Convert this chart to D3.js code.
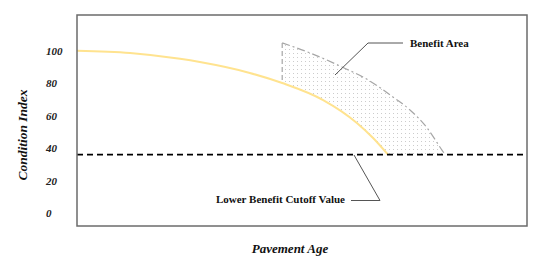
<!DOCTYPE html>
<html>
<head>
<meta charset="utf-8">
<script src="https://cdn.jsdelivr.net/npm/d3@7"></script>
<style>
  body { margin: 0; background: #fff; }
  svg { display: block; font-family: "Liberation Serif", "Times New Roman", serif; }
</style>
</head>
<body>
<svg id="chart" width="550" height="267"></svg>
<script>
// condition curve (yellow)
var pavementAge    = [0, 11.8, 22.9, 27.3, 38.4, 45.6, 54.7, 62.2, 65.8, 69.1];
var conditionIndex = [100, 98.6, 95, 93, 86.3, 80.1, 69.6, 55.5, 46.2, 36];

// upper edge of the benefit area (dash-dot)
var benefitAge   = [45.6, 51.8, 58.4, 65.1, 70.2, 74, 77.8, 81.1, 81.8];
var benefitIndex = [104.8, 98.6, 90.6, 81.3, 71.5, 63.5, 52.4, 38.8, 36];
var benefitStartLow = 80.1;   // where the vertical edge meets the yellow curve

var cutoffValue = 36;
var yTicks = [0, 20, 40, 60, 80, 100];

var svg = d3.select("#chart");
var plotLeft = 77, plotRight = 527, plotTop = 15, plotBottom = 226;

var x = d3.scaleLinear().domain([0, 100]).range([plotLeft, plotRight]);
var y = d3.scaleLinear().domain([-8, 122]).range([plotBottom, plotTop]);

var condPts = pavementAge.map(function(a, i){ return [a, conditionIndex[i]]; });
var benPts  = benefitAge.map(function(a, i){ return [a, benefitIndex[i]]; });

// dotted fill pattern
var defs = svg.append("defs");
var pat = defs.append("pattern").attr("id", "dots")
  .attr("width", 4).attr("height", 4).attr("patternUnits", "userSpaceOnUse");
pat.append("rect").attr("x", 1).attr("y", 1).attr("width", 1).attr("height", 1).attr("fill", "#cccccc");

var lineGen = d3.line().x(function(d){ return x(d[0]); }).y(function(d){ return y(d[1]); })
  .curve(d3.curveMonotoneX);
var areaGen = d3.area().x(function(d){ return x(d[0]); })
  .y0(y(cutoffValue)).y1(function(d){ return y(d[1]); })
  .curve(d3.curveMonotoneX);

var mask = defs.append("mask").attr("id", "benefitMask");
mask.append("path").attr("d", areaGen(benPts)).attr("fill", "white");
mask.append("path").attr("d", areaGen(condPts)).attr("fill", "black");

svg.append("rect")
  .attr("x", x(benefitAge[0])).attr("y", y(benefitIndex[0]))
  .attr("width", x(benefitAge[benefitAge.length - 1]) - x(benefitAge[0]))
  .attr("height", y(cutoffValue) - y(benefitIndex[0]))
  .attr("fill", "url(#dots)").attr("mask", "url(#benefitMask)");

// benefit area outline
svg.append("line")
  .attr("x1", x(benefitAge[0])).attr("x2", x(benefitAge[0]))
  .attr("y1", y(benefitIndex[0])).attr("y2", y(benefitStartLow))
  .attr("stroke", "#a6a6a6").attr("stroke-width", 1.2).attr("stroke-dasharray", "5,3");
svg.append("path").attr("d", lineGen(benPts))
  .attr("fill", "none").attr("stroke", "#a6a6a6").attr("stroke-width", 1.2)
  .attr("stroke-dasharray", "8,3,2,3");

// condition curve
svg.append("path").attr("d", lineGen(condPts))
  .attr("fill", "none").attr("stroke", "#ffe38f").attr("stroke-width", 2);

// cutoff line
svg.append("line")
  .attr("x1", plotLeft).attr("x2", plotRight)
  .attr("y1", y(cutoffValue)).attr("y2", y(cutoffValue))
  .attr("stroke", "#000").attr("stroke-width", 1.6).attr("stroke-dasharray", "6,4");

// frame
svg.append("rect").attr("x", plotLeft).attr("y", plotTop)
  .attr("width", plotRight - plotLeft).attr("height", plotBottom - plotTop)
  .attr("fill", "none").attr("stroke", "#6b6b6b").attr("stroke-width", 1.5);

// y axis labels (no tick marks, no domain line)
var yAxis = svg.append("g").attr("transform", "translate(" + plotLeft + ",0)")
  .call(d3.axisLeft(y).tickValues(yTicks).tickSize(0).tickFormat(d3.format("d")));
yAxis.select(".domain").remove();
yAxis.selectAll("text")
  .attr("x", 46 - plotLeft).attr("text-anchor", "start")
  .attr("font-family", "Liberation Serif, serif")
  .attr("font-size", 11).attr("font-weight", "bold").attr("font-style", "italic")
  .attr("fill", "#222");

// axis titles
svg.append("text")
  .attr("transform", "translate(27,135) rotate(-90)")
  .attr("text-anchor", "middle")
  .attr("font-size", 13.5).attr("font-weight", "bold").attr("font-style", "italic")
  .attr("fill", "#111")
  .text("Condition Index");
svg.append("text")
  .attr("x", 290).attr("y", 253)
  .attr("text-anchor", "middle")
  .attr("font-size", 13).attr("font-weight", "bold").attr("font-style", "italic")
  .attr("fill", "#111")
  .text("Pavement Age");

// annotations
svg.append("path")
  .attr("d", d3.line()([[335, 75], [368, 43], [403, 43]]))
  .attr("fill", "none").attr("stroke", "#555").attr("stroke-width", 1);
svg.append("text")
  .attr("x", 410).attr("y", 47)
  .attr("font-size", 11).attr("font-weight", "bold").attr("fill", "#111")
  .text("Benefit Area");

svg.append("path")
  .attr("d", d3.line()([[351, 200.5], [380, 200.5], [354, 155]]))
  .attr("fill", "none").attr("stroke", "#555").attr("stroke-width", 1);
svg.append("text")
  .attr("x", 345).attr("y", 203)
  .attr("text-anchor", "end")
  .attr("font-size", 11).attr("font-weight", "bold").attr("fill", "#111")
  .text("Lower Benefit Cutoff Value");
</script>
</body>
</html>
